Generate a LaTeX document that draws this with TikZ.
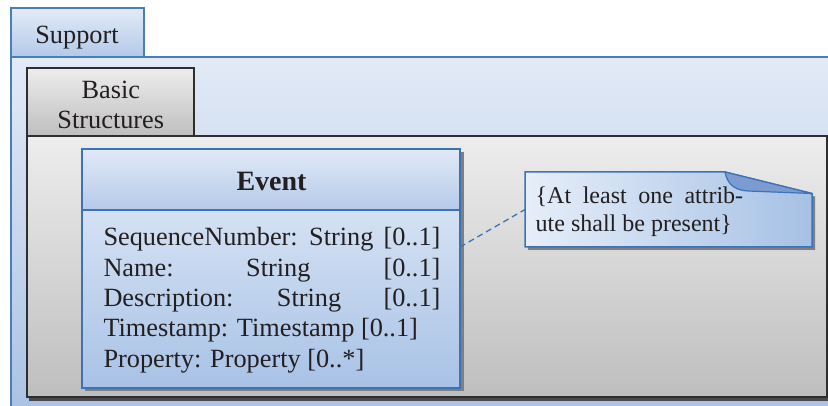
\documentclass[tikz,border=0pt]{standalone}
\usepackage{fontspec}
\setmainfont{Liberation Serif}
\usetikzlibrary{calc}
\definecolor{ink}{HTML}{231F20}
\definecolor{supA}{HTML}{E2EAF6}
\definecolor{supB}{HTML}{A9C1E4}
\definecolor{tabA}{HTML}{E3EBF7}
\definecolor{tabB}{HTML}{B3C9E9}
\definecolor{supline}{HTML}{4A7EBB}
\definecolor{evline}{HTML}{3C73B6}
\definecolor{grayA}{HTML}{EDEDED}
\definecolor{grayB}{HTML}{BEBEBE}
\definecolor{grayline}{HTML}{2E2E2E}
\definecolor{evA}{HTML}{E4ECF8}
\definecolor{evB}{HTML}{A8C2E6}
\definecolor{hdA}{HTML}{E0E9F6}
\definecolor{hdB}{HTML}{B5CAE9}
\definecolor{noteA}{HTML}{E6EEF9}
\definecolor{noteB}{HTML}{A6C1E5}
\definecolor{foldc}{HTML}{7B9CD0}
\definecolor{shadowc}{HTML}{7F7F7F}
\definecolor{shadowd}{HTML}{4A4A4A}
\begin{document}
\begin{tikzpicture}[x=1pt,y=-1pt,
  txt/.style={font=\fontsize{26.3}{31}\selectfont, text=ink, inner sep=0pt, anchor=base west},
  ctxt/.style={txt, anchor=base},
  notetxt/.style={txt, font=\fontsize{24}{28}\selectfont},
  box/.style={inner sep=0pt, outer sep=0pt, anchor=north west},
  blueline/.style={draw=evline, line width=1.5pt},
]
\useasboundingbox (0,0) rectangle (828,406);
\begin{scope}
\clip (0,0) rectangle (828,406);
\fill[white] (0,0) rectangle (828,406);
% outer package
\node[box, minimum width=840, minimum height=360, top color=supA, bottom color=supB, draw=supline, line width=1.5pt] (supbody) at (11,57) {};
\node[box, minimum width=133, minimum height=49, top color=tabA, bottom color=tabB, draw=supline, line width=1.5pt] (suptab) at (11,8) {};
\node[ctxt] (suplabel) at (77,43.3) {Support};
% basic structures package
\fill[shadowd] (29,139) rectangle (831,400.5);
\node[box, minimum width=800, minimum height=261, top color=grayA, bottom color=grayB, draw=grayline, line width=1.5pt] (bsbody) at (27,136) {};
\node[box, minimum width=167, minimum height=68, top color=grayA, bottom color=grayB, draw=grayline, line width=1.5pt] (bstab) at (27,68) {};
\node[ctxt] (bslabelA) at (110.8,98.3) {Basic};
\node[ctxt] (bslabelB) at (110.8,128.3) {Structures};
% event class
\fill[shadowc] (85,152) rectangle (463.5,391);
\node[box, minimum width=378, minimum height=239, top color=evA, bottom color=evB, blueline] (event) at (82,149) {};
\node[box, minimum width=378, minimum height=61, top color=hdA, bottom color=hdB, blueline] (evhead) at (82,149) {};
\node[ctxt, font=\fontsize{28}{31}\selectfont\bfseries] (evname) at (271.5,190.7) {Event};
\node[txt] (a1a) at (103.3,246) {SequenceNumber:};
\node[txt] (a1b) at (309,246) {String};
\node[txt] (a1c) at (383.3,246) {[0..1]};
\node[txt] (a2a) at (103.3,276.5) {Name:};
\node[txt] (a2b) at (246,276.5) {String};
\node[txt] (a2c) at (383.3,276.5) {[0..1]};
\node[txt] (a3a) at (103.3,307) {Description:};
\node[txt] (a3b) at (276.7,307) {String};
\node[txt] (a3c) at (383.3,307) {[0..1]};
\node[txt] (a4) at (103.3,337) {Timestamp: Timestamp [0..1]};
\node[txt] (a5) at (103.3,367.5) {Property: Property [0..*]};
% note
\node[box, minimum width=287, minimum height=75] (note) at (525,172) {};
\fill[shadowc] (528,175) -- (728,175) -- (815,196.5) -- (815,250) -- (528,250) -- cycle;
\path[left color=noteA, right color=noteB, blueline, line join=miter]
  (note.north west) -- (725,172) -- (812,193.5) -- (note.south east) -- (note.south west) -- cycle;
\path[fill=foldc, draw=evline, line width=1.2pt, line join=round]
  (725,172) -- (812,193.5) -- (748,191) .. controls (731,190) and (727,181) .. (725,172) -- cycle;
\node[notetxt] (n1) at (535.5,203.3) {\makebox[207.5pt][s]{\{At least one attrib-}};
\node[notetxt] (n2) at (535.5,231.7) {ute shall be present\}};
% connector
\draw[evline, line width=1.3pt, dash pattern=on 6pt off 4pt] ([yshift=21.5pt]event.east) -- (note.west);
\end{scope}
\end{tikzpicture}
\end{document}
